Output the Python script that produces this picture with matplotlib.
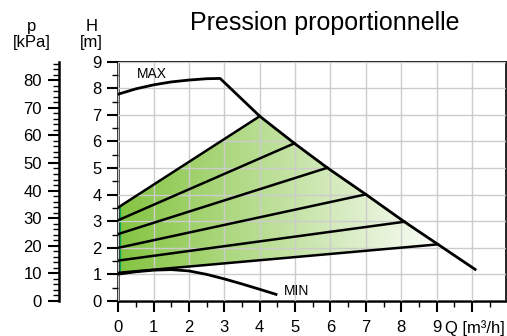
import numpy as np
import matplotlib
matplotlib.use("Agg")
import matplotlib.pyplot as plt
from matplotlib.colors import LinearSegmentedColormap
from matplotlib.patches import Polygon

plt.rcParams['font.family'] = ['Liberation Sans', 'DejaVu Sans']

# ---- data ----
max_q = [0, 0.5, 1, 1.5, 2, 2.5, 2.88, 4.0, 4.98, 5.91, 7.0, 8.09, 9.04, 10.09]
max_h = [7.78, 7.98, 8.13, 8.24, 8.31, 8.36, 8.37, 6.95, 5.93, 5.01, 4.01, 2.98, 2.13, 1.19]
min_q = [0, 0.5, 1, 1.5, 2, 2.5, 3, 3.5, 4, 4.46]
min_h = [1.01, 1.1, 1.16, 1.18, 1.13, 1.0, 0.83, 0.64, 0.44, 0.25]
prop_start_h = [3.52, 3.04, 2.52, 2.0, 1.52, 1.06]
prop_end_q = [4.0, 4.98, 5.91, 7.0, 8.09, 9.04]
prop_end_h = [6.95, 5.93, 5.01, 4.01, 2.98, 2.13]
x_ticks = [0, 1, 2, 3, 4, 5, 6, 7, 8, 9, 10]
x_tick_labels = ['0', '1', '2', '3', '4', '5', '6', '7', '8', '9', '']
y_ticks = [0, 1, 2, 3, 4, 5, 6, 7, 8, 9]
kpa_ticks = [0, 10, 20, 30, 40, 50, 60, 70, 80]
kpa_per_m = 9.63

W, H = 507, 336
fig = plt.figure(figsize=(W / 100, H / 100), dpi=100)
ax = fig.add_axes([118.3 / W, 35 / H, (506.2 - 118.3) / W, (301 - 61.7) / H])
ax.set_xlim(0, 10.97)
ax.set_ylim(0, 9)

# grid
ax.set_xticks(x_ticks)
ax.set_xticklabels(x_tick_labels)
ax.set_yticks(y_ticks)
ax.set_xticks(np.arange(0.5, 11, 1.0), minor=True)
ax.set_yticks(np.arange(0.5, 9, 1.0), minor=True)
ax.grid(True, which='major', color='#cccccc', linewidth=1.0)
ax.set_axisbelow(False)
ax.tick_params(which='major', length=8, width=1.5, direction='out', labelsize=12, pad=4, color='black')
ax.tick_params(axis='x', which='major', pad=5.5)
ax.tick_params(which='minor', length=4, width=1.0, direction='out')
for s in ['left', 'bottom']:
    ax.spines[s].set_linewidth(1.8)
for s in ['top', 'right']:
    ax.spines[s].set_linewidth(1.2)
for gl in ax.get_xgridlines() + ax.get_ygridlines():
    gl.set_zorder(1.5)

# green gradient fill region
poly_pts = [(0, prop_start_h[-1]), (prop_end_q[-1], prop_end_h[-1])]
for q, h in zip(reversed(prop_end_q), reversed(prop_end_h)):
    poly_pts.append((q, h))
poly_pts.append((0, prop_start_h[0]))
poly = Polygon(poly_pts, closed=True, facecolor='none', edgecolor='none')
ax.add_patch(poly)
cmap = LinearSegmentedColormap.from_list('g', ['#84c441', '#ffffff'])
grad = np.linspace(0, 1, 256).reshape(1, -1)
im = ax.imshow(grad, cmap=cmap, extent=[0, 9.4, 0, 9], aspect='auto', zorder=1, interpolation='bilinear')
im.set_clip_path(poly)
ax.set_xlim(0, 10.97)
ax.set_ylim(0, 9)

# teal edge
ax.plot([0.04, 0.04], [prop_start_h[-1], prop_start_h[0]], color='#00a859', lw=1.6, zorder=2, solid_capstyle='butt')

# curves
ax.plot(max_q, max_h, color='black', lw=2.0, zorder=3)
ax.plot(min_q, min_h, color='black', lw=2.0, zorder=3)
for h0, q1, h1 in zip(prop_start_h, prop_end_q, prop_end_h):
    ax.plot([0, q1], [h0, h1], color='black', lw=1.8, zorder=3)

ax.text(0.52, 8.39, 'MAX', fontsize=10, va='baseline', ha='left')
ax.text(4.69, 0.23, 'MIN', fontsize=10, va='baseline', ha='left')

# kPa axis
ax2 = fig.add_axes([58.7 / W, 35 / H, 0.0001, (301 - 61.7) / H])
ax2.set_ylim(0, 9 * kpa_per_m)
ax2.patch.set_visible(False)
for s in ['top', 'right', 'bottom']:
    ax2.spines[s].set_visible(False)
ax2.spines['left'].set_linewidth(1.8)
ax2.set_xticks([])
ax2.set_yticks(kpa_ticks)
ax2.set_yticks(np.arange(0, 88, 2), minor=True)
ax2.tick_params(which='major', length=8, width=1.5, direction='out', labelsize=12, pad=4)
ax2.tick_params(which='minor', length=4, width=1.0, direction='out')

# headers and title
fig.text(31.7 / W, 1 - 31 / H, 'p', fontsize=12, ha='center', va='baseline')
fig.text(31.7 / W, 1 - 46.7 / H, '[kPa]', fontsize=12, ha='center', va='baseline')
fig.text(91.7 / W, 1 - 31 / H, 'H', fontsize=12, ha='center', va='baseline')
fig.text(91.7 / W, 1 - 46.7 / H, '[m]', fontsize=12, ha='center', va='baseline')
fig.text(325 / W, 1 - 30 / H, 'Pression proportionnelle', fontsize=18, ha='center', va='baseline')
fig.text(445 / W, 1 - 332.5 / H, 'Q [m³/h]', fontsize=12, ha='left', va='baseline')

fig.savefig('out.png', dpi=100)
